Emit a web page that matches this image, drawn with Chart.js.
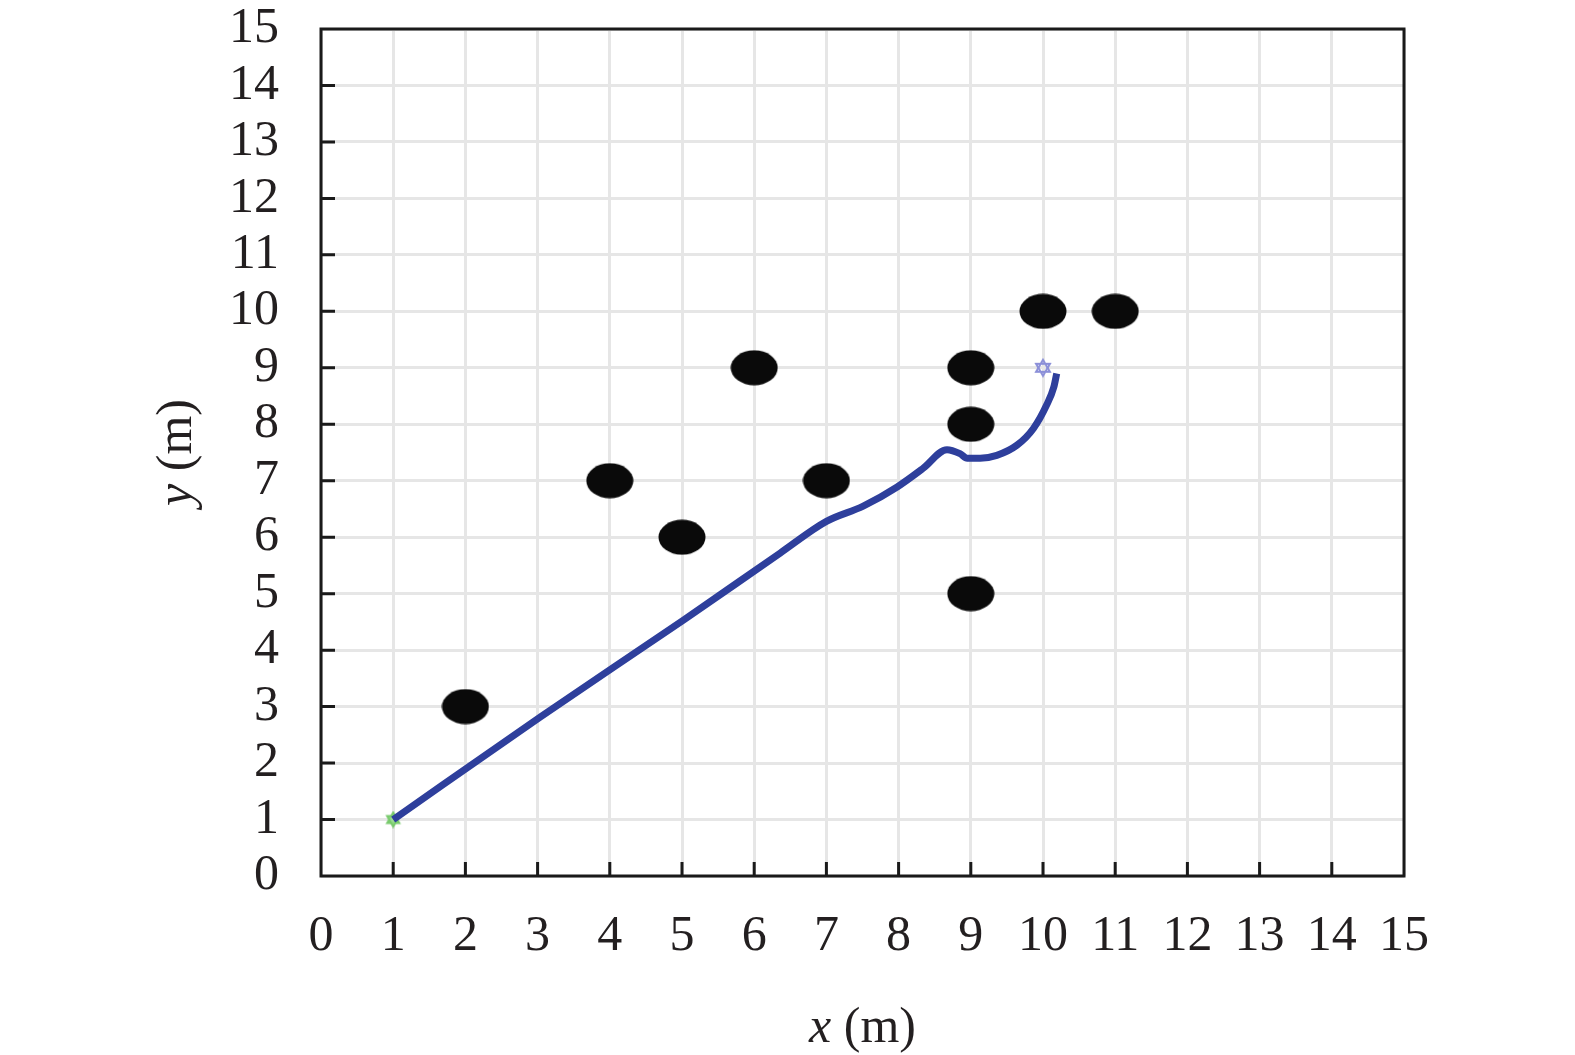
<!DOCTYPE html>
<html>
<head>
<meta charset="utf-8">
<script src="https://cdn.jsdelivr.net/npm/chart.js@4.4.0/dist/chart.umd.min.js"></script>
<style>
  body { margin: 0; background: #fff; }
  #wrap { width: 1575px; height: 1055px; position: relative; }
</style>
</head>
<body>
<div id="wrap"><canvas id="myChart"></canvas></div>
<script>
'use strict';

//***************** Data *****************
let tickValues = [0, 1, 2, 3, 4, 5, 6, 7, 8, 9, 10, 11, 12, 13, 14, 15];

// obstacles (black dots)
let obstacleX = [2, 4, 5, 6, 7, 9, 9, 9, 10, 11];
let obstacleY = [3, 7, 6, 9, 7, 9, 8, 5, 10, 10];

// robot path (blue line)
let pathX = [1, 3.04, 5.02, 6.36, 7.0, 7.51, 7.98, 8.34, 8.67, 8.85, 8.95, 9.13, 9.36, 9.64, 9.87, 10.05, 10.15, 10.19];
let pathY = [1, 2.82, 4.53, 5.72, 6.28, 6.55, 6.89, 7.22, 7.55, 7.48, 7.40, 7.40, 7.45, 7.63, 7.93, 8.34, 8.66, 8.90];

let startPoint = [1, 1];
let goalPoint = [10, 9];

let xTitle = ['x', ' (m)'];
let yTitle = ['y', ' (m)'];

//***************** Helpers *****************
function toPoints(xs, ys) {
  let pts = [];
  for (let i = 0; i < xs.length; i++) {
    pts.push({ x: xs[i], y: ys[i] });
  }
  return pts;
}

// ellipse used as point style for obstacles
let blob = document.createElement('canvas');
blob.width = 48;
blob.height = 36;
let bctx = blob.getContext('2d');
bctx.fillStyle = '#0a0a0a';
bctx.beginPath();
bctx.ellipse(24, 18, 23.5, 17.5, 0, 0, Math.PI * 2);
bctx.fill();

// six pointed star (two triangles) for start / goal markers
function makeStar(size, stroke, fill) {
  let cv = document.createElement('canvas');
  cv.width = size;
  cv.height = size;
  let s = cv.getContext('2d');
  let r = size / 2 - 2;
  let c = size / 2;
  s.lineWidth = 2;
  s.strokeStyle = stroke;
  s.fillStyle = fill;
  for (let t = 0; t < 2; t++) {
    s.beginPath();
    for (let k = 0; k < 3; k++) {
      let ang = -Math.PI / 2 + t * Math.PI + k * 2 * Math.PI / 3;
      let px = c + r * Math.cos(ang);
      let py = c + r * Math.sin(ang);
      if (k === 0) s.moveTo(px, py); else s.lineTo(px, py);
    }
    s.closePath();
    if (fill) s.fill();
    s.stroke();
  }
  return cv;
}

let startStar = makeStar(18, '#76c96a', 'rgba(150,220,140,0.7)');
let goalStar = makeStar(20, '#8b8fd8', null);

let textColor = '#231f20';
let fontFamily = "'Liberation Serif', 'Times New Roman', serif";

//***************** Plugin: frame, inward ticks, axis titles *****************
let framePlugin = {
  id: 'frame',
  afterDatasetsDraw(chart) {
    let c = chart.ctx;
    let a = chart.chartArea;
    let xs = chart.scales.x;
    let ys = chart.scales.y;
    c.save();
    c.strokeStyle = '#1a1a1a';
    c.lineWidth = 3;
    c.lineCap = 'butt';
    c.beginPath();
    for (let i = 1; i < tickValues.length - 1; i++) {
      let py = ys.getPixelForValue(tickValues[i]);
      c.moveTo(a.left, py);
      c.lineTo(a.left + 14, py);
      let px = xs.getPixelForValue(tickValues[i]);
      c.moveTo(px, a.bottom);
      c.lineTo(px, a.bottom - 14);
    }
    c.stroke();
    c.strokeRect(a.left, a.top, a.right - a.left, a.bottom - a.top);
    c.restore();
  },
  afterDraw(chart) {
    let c = chart.ctx;
    let a = chart.chartArea;
    c.save();
    c.fillStyle = textColor;
    c.textBaseline = 'middle';
    c.textAlign = 'left';

    let italic = 'italic 50px ' + fontFamily;
    let normal = '50px ' + fontFamily;

    // x title
    c.font = italic;
    let w1 = c.measureText(xTitle[0]).width;
    c.font = normal;
    let w2 = c.measureText(xTitle[1]).width;
    let sx = (a.left + a.right) / 2 - (w1 + w2) / 2;
    c.font = italic;
    c.fillText(xTitle[0], sx, 1029);
    c.font = normal;
    c.fillText(xTitle[1], sx + w1, 1029);

    // y title (rotated)
    c.translate(178, (a.top + a.bottom) / 2);
    c.rotate(-Math.PI / 2);
    c.font = italic;
    w1 = c.measureText(yTitle[0]).width;
    c.font = normal;
    w2 = c.measureText(yTitle[1]).width;
    sx = -(w1 + w2) / 2;
    c.font = italic;
    c.fillText(yTitle[0], sx, 0);
    c.font = normal;
    c.fillText(yTitle[1], sx + w1, 0);
    c.restore();
  }
};

//***************** Chart *****************
let ctx = document.getElementById('myChart');

let axisBase = {
  type: 'linear',
  min: 0,
  max: 15,
  grid: {
    color: '#e6e6e6',
    lineWidth: 3,
    drawTicks: false
  },
  border: { display: false },
  ticks: {
    stepSize: 1,
    autoSkip: false,
    color: textColor,
    font: { family: fontFamily, size: 50, lineHeight: 1 }
  }
};

let myChartObj = {
  type: 'scatter',
  data: {
    datasets: [
      {
        label: 'obstacles',
        data: toPoints(obstacleX, obstacleY),
        pointStyle: blob,
        pointRadius: 18,
        order: 3
      },
      {
        label: 'path',
        data: toPoints(pathX, pathY),
        showLine: true,
        borderColor: '#2e3f9c',
        borderWidth: 7,
        pointRadius: 0,
        cubicInterpolationMode: 'monotone',
        order: 2
      },
      {
        label: 'goal',
        data: [{ x: goalPoint[0], y: goalPoint[1] }],
        pointStyle: goalStar,
        pointRadius: 10,
        order: 4
      },
      {
        label: 'start',
        data: [{ x: startPoint[0], y: startPoint[1] }],
        pointStyle: startStar,
        pointRadius: 9,
        order: 4
      }
    ]
  },
  options: {
    responsive: true,
    maintainAspectRatio: false,
    animation: false,
    events: [],
    layout: { padding: { top: 29, right: 171, left: 0, bottom: 0 } },
    plugins: {
      legend: { display: false },
      tooltip: { enabled: false }
    },
    scales: {
      x: Object.assign({}, axisBase, {
        position: 'bottom',
        ticks: Object.assign({}, axisBase.ticks, { padding: 36, maxRotation: 0 }),
        afterFit(scale) {
          scale.height = 179;
          scale.paddingLeft = 0;
          scale.paddingRight = 0;
        }
      }),
      y: Object.assign({}, axisBase, {
        position: 'left',
        ticks: Object.assign({}, axisBase.ticks, { padding: 42 }),
        afterFit(scale) {
          scale.width = 321;
          scale.paddingTop = 0;
          scale.paddingBottom = 0;
        }
      })
    }
  },
  plugins: [framePlugin]
};

new Chart(ctx, myChartObj);
</script>
</body>
</html>
